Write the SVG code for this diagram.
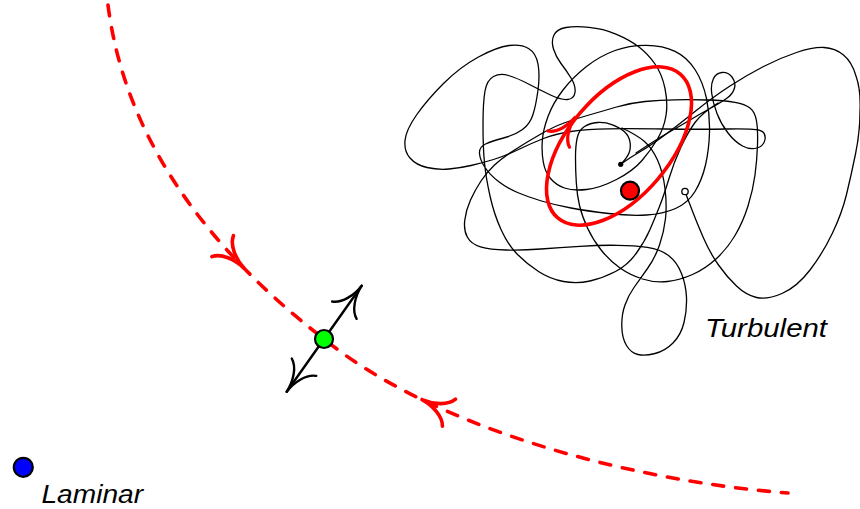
<svg xmlns="http://www.w3.org/2000/svg" xmlns:xlink="http://www.w3.org/1999/xlink" width="860" height="509" viewBox="0 0 860 509">
<defs>
<style>
.tg{fill:none;stroke:#000;stroke-width:1.3;stroke-linecap:round;stroke-linejoin:round}
.red{fill:none;stroke:#ff0000;stroke-width:3.6;stroke-linecap:round;stroke-linejoin:round}
.dash{stroke-dasharray:11 12}
.blk{fill:none;stroke:#000;stroke-width:2.4;stroke-linecap:round;stroke-linejoin:round}
.dot{stroke:#000;stroke-width:2.2}
.lbl{font-family:"Liberation Sans",Arial,sans-serif;font-style:italic;font-size:26px;fill:#000}
</style>
<path id="ah" d="M-30,15 C-26,6 -12,0.5 0,0 M-30,-15 C-26,-6 -12,-0.5 0,0"/>
</defs>
<rect width="860" height="509" fill="#fff"/>

<g id="connectors">
<path id="separatrix" class="red dash" d="M108,5 C120,100 170,220 324,339 C430,425 620,480 788,493"/>
<use xlink:href="#ah" href="#ah" class="red" transform="translate(243.6,267.7) rotate(45.8)"/>
<use xlink:href="#ah" href="#ah" class="red" transform="translate(422,399.6) rotate(205.9)"/>
<path id="unstable" class="blk" d="M286.7,391.7 L361.7,285.7"/>
<use xlink:href="#ah" href="#ah" class="blk" transform="translate(361.7,285.7) rotate(-54.7)"/>
<use xlink:href="#ah" href="#ah" class="blk" transform="translate(286.7,391.7) rotate(125.3)"/>
</g>

<g id="turbulent-set">
<path class="tg" d="M620.7,164.3 Q627,158 629,153 Q631,148 630,142 Q629,136 624.5,131.8 Q620,127.5 612.5,124.8 Q605,122 597.5,122.5 Q590,123 584.5,126.5 Q579,130 577.3,137.5 Q575.5,145 575.5,157.5 Q575.5,170 576.3,182.5 Q577,195 579.5,205.5 Q582,216 587.5,228 Q593,240 601.5,250.5 Q610,261 620,268 Q630,275 642.5,279 Q655,283 667.5,281.5 Q680,280 692.5,274.5 Q705,269 716,259 Q727,249 735,235.5 Q743,222 748,206 Q753,190 755,175 Q757,160 757.5,145 Q758,130 756.5,121 Q755,112 750,108 Q745,104 735,102.3 Q725,100.5 707.5,100 Q690,99.5 675,99.8 Q660,100 645,101.5 Q630,103 616.5,107 Q603,111 589,115 Q575,119 564,123 Q553,127 540,134.5 Q527,142 514.5,150 Q502,158 494.5,165 Q487,172 481,181 Q475,190 470.5,200 Q466,210 464.8,220 Q463.5,230 467.3,237 Q471,244 480.5,246.8 Q490,249.5 506,250 Q522,250.5 541,249 Q560,247.5 580,246.3 Q600,245 617.5,245.3 Q635,245.5 647.5,247.3 Q660,249 668.5,255.5 Q677,262 681.5,273.5 Q686,285 686.5,297.5 Q687,310 684,322.5 Q681,335 673,343 Q665,351 655,353.5 Q645,356 638,354.5 Q631,353 626.5,345.5 Q622,338 621.8,326.5 Q621.5,315 624.8,305.5 Q628,296 634,287.5 Q640,279 647.5,268.5 Q655,258 659.5,245 Q664,232 665.5,218.5 Q667,205 665,188.5 Q663,172 657.5,160 Q652,148 644.5,141.5 Q637,135 622,128"/>
<path class="tg" d="M620.7,164.3 Q630,157.5 640,151.8 Q650,146 663.5,136 Q677,126 695,111.5 Q713,97 730,86 Q747,75 763.5,66.5 Q780,58 796.5,52.5 Q813,47 824,47.5 Q835,48 843.5,55 Q852,62 856,76 Q861,90 860,111 Q860,132 855.5,154 Q851,176 846.5,194.5 Q842,213 832.5,233 Q823,253 810,270 Q797,287 782,293.5 Q767,300 756.5,297.5 Q746,295 736.5,286 Q727,277 718.5,265 Q710,253 703.5,238 Q697,223 693,212.5 Q689,202 685,191.7"/>
<path class="tg" d="M636,153 Q657,139 668.5,132.5 Q680,126 690,120 Q700,114 710,108.5 Q720,103 726.5,98.5 Q733,94 734.5,88 Q736,82 732,77 Q728,72 722,72.5 Q716,73 713.3,79 Q710.5,85 711.8,94 Q713,103 717,113.5 Q721,124 728,133 Q735,142 742.5,146 Q750,150 757,148 Q764,146 765,139.5 Q766,133 761,130.8 Q756,128.5 728,129 Q700,129.5 665,129 Q630,128.5 608.5,128.8 Q587,129 571,131.5 Q555,134 543.5,138.5 Q532,143 518.5,149.5 Q505,156 493.5,159.5 Q482,163 471,165.5 Q460,168 449,169 Q438,170 427,167.5 Q416,165 410,158 Q404,151 405,140.5 Q406,130 416.5,115 Q427,100 443.5,83.5 Q460,67 478.5,57 Q497,47 509,45.5 Q521,44 528.5,48.5 Q536,53 538,64 Q540,75 538,90 Q536,105 533,114.5 Q530,124 522.5,129.5 Q515,135 503.5,138 Q492,141 485.5,144 Q479,147 479.5,153.5 Q480,160 485,167.5 Q490,175 498.5,181.5 Q507,188 517.5,192.5 Q528,197 541.5,201 Q555,205 571,208 Q587,211 608.5,213.5 Q630,216 646.5,215 Q663,214 675.5,208.5 Q688,203 695,191.5 Q702,180 705.5,165 Q709,150 709.5,132.5 Q710,115 706.5,98.5 Q703,82 695,69.5 Q687,57 675,51.3 Q663,45.5 646.5,45.3 Q630,45 615,50.5 Q600,56 586.5,66.5 Q573,77 563,90 Q553,103 548,116.5 Q543,130 542.3,141 Q541.5,152 543.3,162 Q545,172 550.5,178.5 Q556,185 564.5,188 Q573,191 586.5,189.5 Q600,188 616.5,179.5 Q633,171 642,160.5 Q651,150 657.5,139 Q664,128 666,115.5 Q668,103 665,88.5 Q662,74 655,64 Q648,54 639,47 Q630,40 616.5,34.3 Q603,28.5 589,27.3 Q575,26 566,27.5 Q557,29 554,35 Q551,41 553.5,49 Q556,57 561,63.5 Q566,70 571,78 Q576,86 575,92.5 Q574,99 567.5,99.5 Q561,100 550.5,95 Q540,90 528.5,84 Q517,78 508.5,75.5 Q500,73 493.5,76.5 Q487,80 485,91 Q483,102 483,125 Q483,148 484.5,163 Q486,178 490,196 Q494,214 501,229.5 Q508,245 517.5,254.5 Q527,264 538.5,271.5 Q550,279 563.5,281.5 Q577,284 590,281 Q603,278 615.5,271.5 Q628,265 636.5,253 Q645,241 650,229.5 Q655,218 659.5,206.5 Q664,195 669,178.5 Q674,162 681,147 Q688,132 695,122.5 Q702,113 718,103"/>
</g>

<g id="periodic-orbit">
<ellipse class="red" cx="619" cy="146" rx="94.5" ry="51" transform="rotate(-49.6 619 146)"/>
<use xlink:href="#ah" href="#ah" class="red" transform="translate(575,117.5) rotate(-53) scale(0.9)"/>
</g>

<g id="turbulent-points">
<circle cx="620.7" cy="164.3" r="2.6" fill="#000"/>
<circle cx="685" cy="191.5" r="3.2" fill="#fff" stroke="#000" stroke-width="1.3"/>
<circle id="red-state" class="dot" cx="630" cy="190.7" r="9" fill="#ff0000"/>
</g>

<g id="saddle">
<circle class="dot" cx="324" cy="339" r="9" fill="#00ff00"/>
</g>

<g id="laminar">
<circle class="dot" cx="23.3" cy="467.3" r="9.5" fill="#0000ff"/>
<text class="lbl" x="41.5" y="503" textLength="101.5" lengthAdjust="spacingAndGlyphs">Laminar</text>
</g>

<g id="turbulent-label">
<text class="lbl" x="705" y="337" textLength="122" lengthAdjust="spacingAndGlyphs">Turbulent</text>
</g>
</svg>
